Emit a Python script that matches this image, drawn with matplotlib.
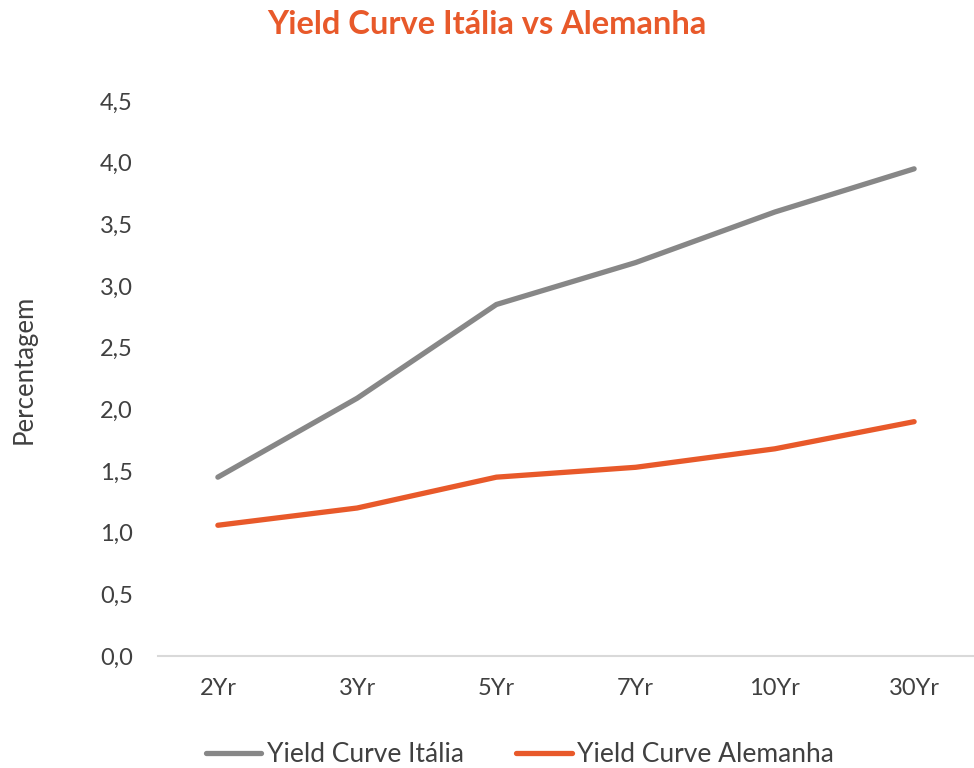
import matplotlib
matplotlib.use("Agg")
import matplotlib.pyplot as plt
from matplotlib.ticker import FixedLocator, FuncFormatter

# Yield curve data (percent)
maturities = ["2Yr", "3Yr", "5Yr", "7Yr", "10Yr", "30Yr"]
italia = [1.45, 2.09, 2.85, 3.19, 3.60, 3.95]
alemanha = [1.06, 1.20, 1.45, 1.53, 1.68, 1.90]
y_ticks = [0.0, 0.5, 1.0, 1.5, 2.0, 2.5, 3.0, 3.5, 4.0, 4.5]

ORANGE = "#E8592A"
GRAY = "#878787"
TEXT = "#404040"

plt.rcParams["font.family"] = ["Lato", "DejaVu Sans"]

W, H = 974, 768
fig = plt.figure(figsize=(W / 100, H / 100), dpi=100)
# axes placed in pixel terms: left 158, right 974, y=0 at 656, y=4.5 at 101
left, right, bottom, top = 158, 974, 656, 101
ax = fig.add_axes([left / W, 1 - bottom / H, (right - left) / W, (bottom - top) / H])

x = list(range(len(maturities)))
ax.plot(x, italia, color=GRAY, lw=3.8, solid_capstyle="round",
        label="Yield Curve Itália", clip_on=False)
ax.plot(x, alemanha, color=ORANGE, lw=3.8, solid_capstyle="round",
        label="Yield Curve Alemanha", clip_on=False)

ax.set_xlim(-0.43, 5.43)
ax.set_ylim(0, 4.5)
ax.set_xticks(x)
ax.set_xticklabels(maturities)
ax.yaxis.set_major_locator(FixedLocator(y_ticks))
ax.yaxis.set_major_formatter(FuncFormatter(lambda v, p: f"{v:.1f}".replace(".", ",")))

for s in ["top", "right", "left"]:
    ax.spines[s].set_visible(False)
ax.spines["bottom"].set_color("#D9D9D9")
ax.spines["bottom"].set_linewidth(1.5)
ax.tick_params(axis="both", length=0, labelsize=17, colors=TEXT)
ax.tick_params(axis="y", pad=18)
ax.tick_params(axis="x", pad=16)

fig.text(24 / W, 1 - 369 / H, "Percentagem", rotation=90, ha="center", va="center",
         fontsize=18.5, color=TEXT)

fig.text(0.5, 1 - 25 / H, "Yield Curve Itália vs Alemanha", ha="center", va="center",
         fontsize=23.5, fontweight="bold", color=ORANGE)

leg = fig.legend(loc="center", bbox_to_anchor=(520 / W, 1 - 755 / H), ncol=2,
                 frameon=False, fontsize=19, handlelength=2.1, handletextpad=0.2,
                 columnspacing=2.0, labelcolor=TEXT)

fig.savefig("out.png", dpi=100)
